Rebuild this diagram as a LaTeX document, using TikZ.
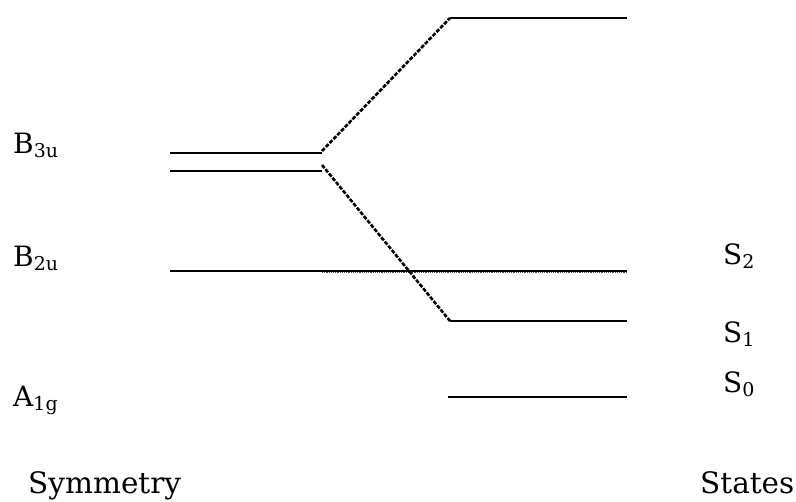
\documentclass[tikz,border=0pt]{standalone}
\usepackage{fontspec}
\setmainfont{DejaVu Serif}
\usepackage{tikz}
\usetikzlibrary{positioning, calc}
\newcommand{\lvlsub}[2]{#1\raisebox{-4pt}{\fontsize{19}{19}\selectfont #2}}

\begin{document}
\begin{tikzpicture}[
    x=1pt, y=-1pt,
    level/.style={draw=black,line width=1.5pt},
    mixline/.style={draw=black,line width=2.6pt,dash pattern=on 4pt off 1.5pt},
    lbl/.style={anchor=base west,inner sep=0pt,font=\fontsize{28}{30}\selectfont},
    caption/.style={anchor=base west,inner sep=0pt,font=\fontsize{29.5}{32}\selectfont}
  ]
  \useasboundingbox (0,0) rectangle (796,502);

  % Symmetry levels
  \coordinate (b3aW) at (170,153); \coordinate (b3aE) at (322,153);
  \coordinate (b3bW) at (170,171); \coordinate (b3bE) at (322,171);
  \coordinate (b2W) at (170,271);  \coordinate (b2M) at (322,271);
  \draw[level] (b3aW) -- (b3aE);
  \draw[level] (b3bW) -- (b3bE);

  % States levels
  \coordinate (topW) at (450,18);  \coordinate (topE) at (627,18);
  \coordinate (b2E) at (627,271);
  \coordinate (s1W) at (450,321);  \coordinate (s1E) at (627,321);
  \coordinate (s0W) at (448,397);  \coordinate (s0E) at (627,397);
  \draw[level] (topW) -- (topE);
  \draw[level] (b2W) -- (b2E);
  \draw[black!70,line width=1.2pt,densely dotted] ($(b2M)+(0,1.5)$) -- ($(b2E)+(0,1.5)$);
  \draw[level] (s1W) -- (s1E);
  \draw[level] (s0W) -- (s0E);

  % Mixing
  \draw[mixline] (b3aE) ++(0,-2) -- (topW);
  \draw[mixline] (b3bE) ++(0,-6) -- (s1W);

  % Labels
  \node[lbl] (lB3u) at (13,154) {\lvlsub{B}{3u}};
  \node[lbl] (lB2u) at (13,267) {\lvlsub{B}{2u}};
  \node[lbl] (lA1g) at (13,407) {\lvlsub{A}{1g}};
  \node[lbl] (lS2) at (723,265) {\lvlsub{S}{2}};
  \node[lbl] (lS1) at (723,343) {\lvlsub{S}{1}};
  \node[lbl] (lS0) at (723,393) {\lvlsub{S}{0}};
  \node[caption] (lSym) at (28,494) {Symmetry};
  \node[caption] (lSta) at (700,494) {States};
\end{tikzpicture}
\end{document}
